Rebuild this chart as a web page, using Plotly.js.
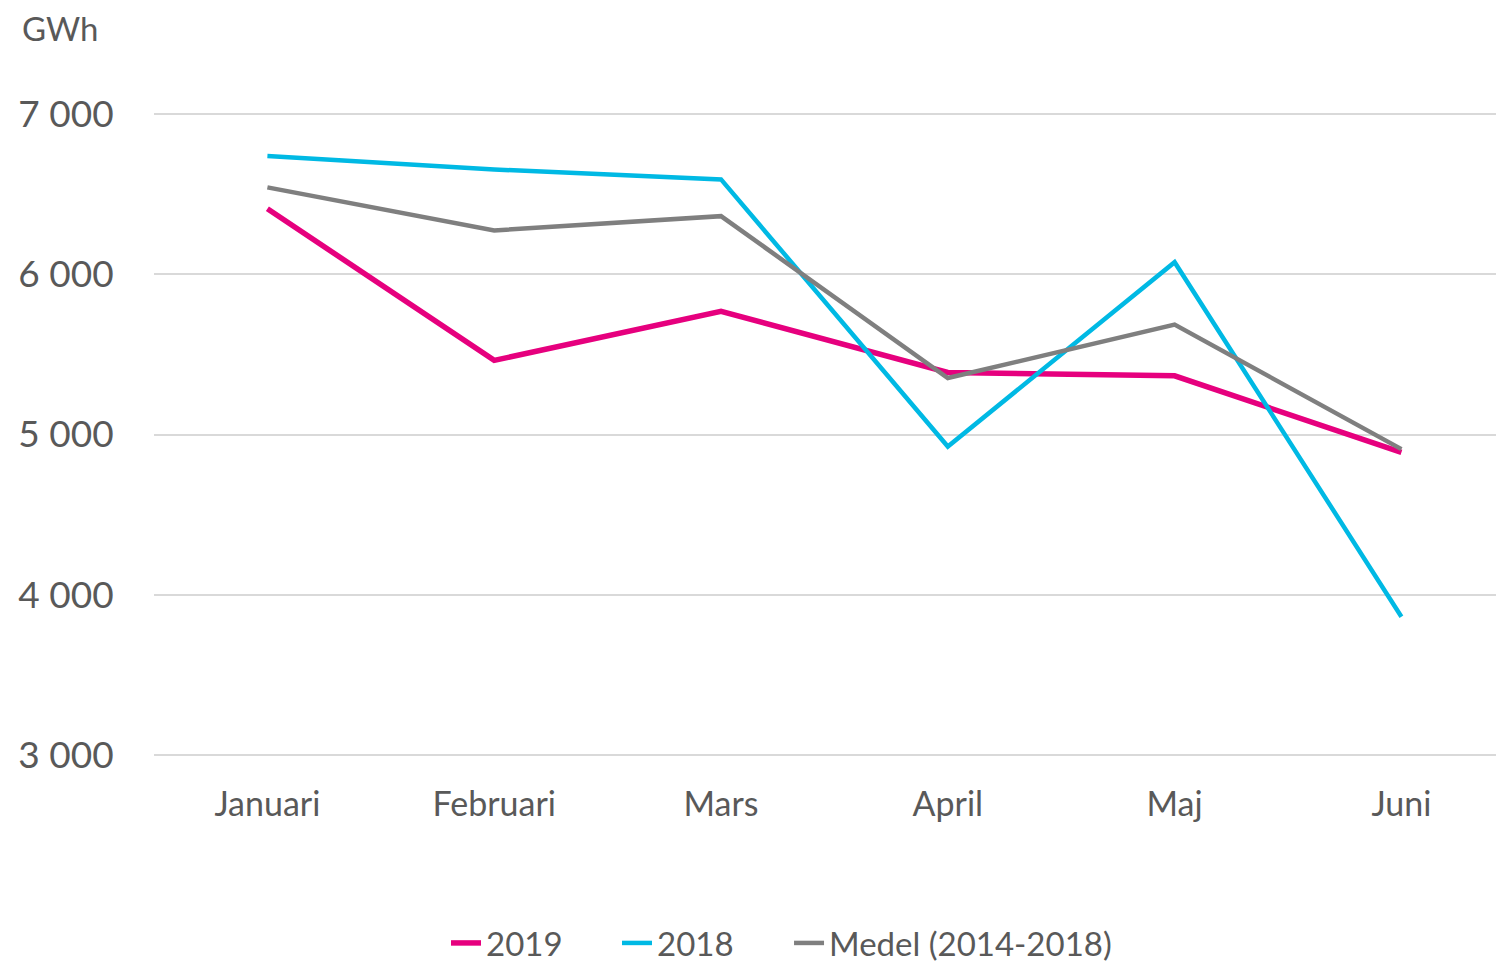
<!DOCTYPE html>
<html>
<head>
<meta charset="utf-8">
<script src="https://cdn.plot.ly/plotly-3.0.1.min.js"></script>
<style>
html,body{margin:0;padding:0;background:#fff;}
#chart{width:1496px;height:964px;}
</style>
</head>
<body>
<div id="chart"></div>
<script>
const months = ["Januari", "Februari", "Mars", "April", "Maj", "Juni"];
const values2019 = [6407, 5462, 5768, 5387, 5366, 4888];
const values2018 = [6735, 6652, 6590, 4925, 6074, 3864];
const valuesMedel = [6540, 6272, 6361, 5352, 5685, 4909];
const seriesNames = ["2019", "2018", "Medel (2014-2018)"];
const yTicks = [3000, 4000, 5000, 6000, 7000];
const yTickLabels = ["3 000", "4 000", "5 000", "6 000", "7 000"];
const unitLabel = "GWh";

const textColor = "#595959";
const font = "Lato, 'Open Sans', sans-serif";

const traces = [
  {x: months, y: values2019, name: seriesNames[0], type: "scatter", mode: "lines",
   line: {color: "#E6007E", width: 5.5}, legend: "legend"},
  {x: months, y: values2018, name: seriesNames[1], type: "scatter", mode: "lines",
   line: {color: "#00B9E4", width: 4.5}, legend: "legend2"},
  {x: months, y: valuesMedel, name: seriesNames[2], type: "scatter", mode: "lines",
   line: {color: "#7F7F7F", width: 4.5}, legend: "legend3"}
];

function legendAt(x) {
  return {orientation: "h", xref: "paper", yref: "container", x: x, xanchor: "left",
          y: 0.0218, yanchor: "middle", bgcolor: "rgba(0,0,0,0)",
          font: {size: 33, color: textColor, family: font}};
}

const layout = {
  width: 1496, height: 964,
  paper_bgcolor: "#fff", plot_bgcolor: "#fff",
  margin: {l: 154, r: 0, t: 112, b: 207, autoexpand: false},
  font: {family: font, color: textColor},
  showlegend: true,
  legend: legendAt(0.2176),
  legend2: legendAt(0.345),
  legend3: legendAt(0.4732),
  xaxis: {type: "category", range: [-0.5, 5.417], showgrid: false, showline: false,
          zeroline: false, ticks: "outside", ticklen: 17, tickcolor: "rgba(0,0,0,0)",
          tickfont: {size: 34, color: textColor, family: font}, fixedrange: true},
  yaxis: {range: [2990, 7010], tickvals: yTicks, ticktext: yTickLabels,
          showgrid: true, gridcolor: "#D9D9D9", gridwidth: 2, zeroline: false, showline: false,
          ticks: "outside", ticklen: 32, tickcolor: "rgba(0,0,0,0)",
          tickfont: {size: 37, color: textColor, family: font}, fixedrange: true},
  annotations: [
    {text: unitLabel, xref: "paper", yref: "paper", x: -0.1, y: 1.13, xanchor: "left",
     yanchor: "middle", showarrow: false, font: {size: 33, color: textColor, family: font}}
  ]
};

Plotly.newPlot("chart", traces, layout, {displayModeBar: false, staticPlot: true});
</script>
</body>
</html>
